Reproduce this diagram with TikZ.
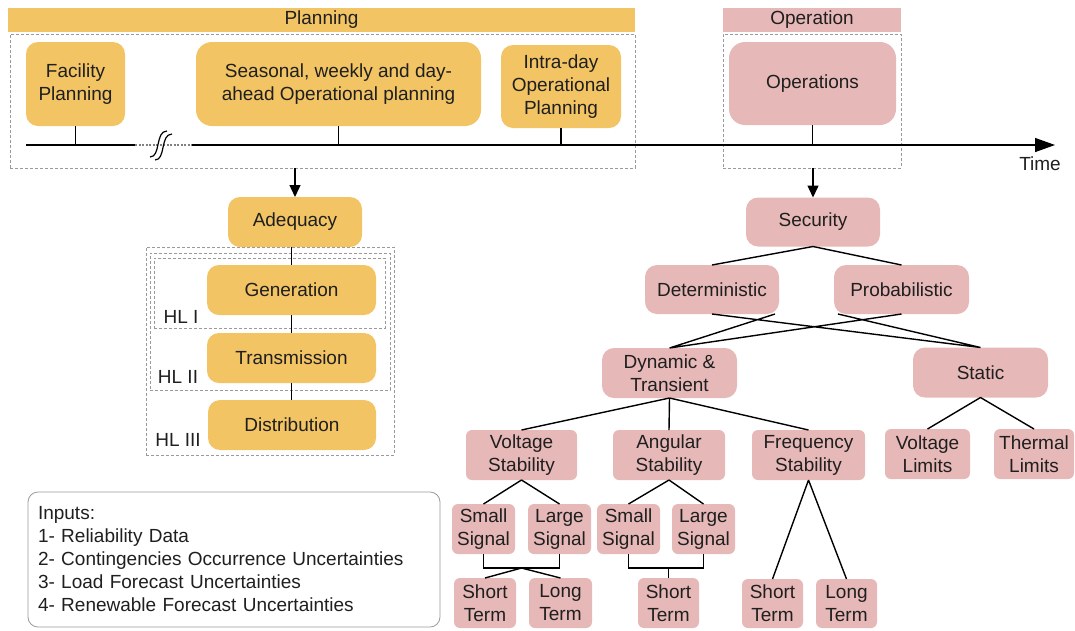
\documentclass[tikz,border=0pt]{standalone}
\usepackage{fontspec}
\setmainfont{Liberation Sans}
\usetikzlibrary{positioning, arrows.meta}
\definecolor{planfill}{HTML}{F2C464}
\definecolor{opfill}{HTML}{E6B8B7}
\definecolor{framegray}{HTML}{9A9A9A}
\definecolor{ink}{HTML}{1F1F1F}
\tikzset{
        >={Triangle[length=12pt,width=11pt]}, % filled arrow heads
        every node/.style={font=\fontsize{19}{23}\selectfont, text=ink, inner sep=2pt, outer sep=0pt},
        planshape/.style={fill=planfill, rounded corners=12pt, align=center},
        opshape/.style={fill=opfill, rounded corners=12pt, align=center},
        leaf/.style={fill=opfill, rounded corners=6pt, align=center},
        band/.style={minimum height=24pt, inner sep=0pt},
        frame/.style={draw=framegray, dash pattern=on 3pt off 2pt, line width=0.8pt, inner sep=0pt},
        link/.style={line width=1.4pt}
        }
\begin{document}
\begin{tikzpicture}[x=1pt, y=-1pt]
        \useasboundingbox (0,0) rectangle (1075,630);

        % bands and frames of the time line
        \node[band, fill=planfill, minimum width=627pt](planband) at (321.5,20){Planning};
        \node[band, fill=opfill, minimum width=178pt](opband) at (812,20){Operation};
        \node[frame, minimum width=625pt, minimum height=134pt](planframe) at (322.5,101){};
        \node[frame, minimum width=178pt, minimum height=134pt](opframe) at (812,101){};

        \node[planshape, minimum width=99pt, minimum height=84pt](fac) at (75.5,84){Facility\\Planning};
        \node[planshape, rounded corners=16pt, minimum width=285pt, minimum height=84pt](sea) at (338.5,84){Seasonal, weekly and day-\\ahead Operational planning};
        \node[planshape, minimum width=120pt, minimum height=83pt](intra) at (561,86.5){Intra-day\\Operational\\Planning};
        \node[opshape, rounded corners=16pt, minimum width=167pt, minimum height=83pt](ops) at (812.5,83.5){Operations};

        \coordinate (t0) at (26,145);
        \coordinate (b0) at (135,145);
        \coordinate (b1) at (192,145);
        \coordinate (t1) at (1055,145);
        \draw[link] (t0) -- (b0);
        \draw[link, gray, dash pattern=on 2pt off 1.5pt] (b0) -- (b1);
        \draw[link, -{Triangle[length=20pt,width=14pt]}] (b1) -- (t1);
        \draw[line width=1.2pt] (150,157) .. controls (161,157) and (155,131) .. (167,131)
                                (155,160) .. controls (166,160) and (160,134) .. (172,134);
        \node(time) at (1040,164){Time};
        \foreach \n in {fac, sea, intra, ops}
            \draw[link] (\n.south) -- (\n.south |- t0);

        % adequacy branch
        \node[planshape, minimum width=134pt, minimum height=50pt](ade) at (295,222){Adequacy};
        \draw[link, ->] (ade.north |- planframe.south) -- (ade.north);
        \node[frame, minimum width=248pt, minimum height=208pt](hl3) at (270,351){};
        \node[frame, minimum width=240pt, minimum height=137pt](hl2) at (270,321.5){};
        \node[frame, minimum width=231pt, minimum height=70pt](hl1) at (269.5,293){};
        \node[planshape, minimum width=169pt, minimum height=50pt](gen) at (291.5,290){Generation};
        \node[planshape, minimum width=169pt, minimum height=50pt](trans) at (291.5,358){Transmission};
        \node[planshape, minimum width=168pt, minimum height=50pt](dist) at (292,425){Distribution};
        \node(hlI) at (181,317){HL I};
        \node(hlII) at (178,377){HL II};
        \node(hlIII) at (178,440){HL III};
        \draw[link] (gen.north |- ade.south) -- (gen.north)
                    (gen.south) -- (gen.south |- trans.north)
                    (trans.south) -- (trans.south |- dist.north);

        % inputs
        \node[draw=framegray, line width=0.8pt, rounded corners=10pt, fill=white,
              minimum width=412pt, minimum height=135pt, text width=392pt, align=left](inputs) at (234,559.5)
              {Inputs:\\1- Reliability Data\\2- Contingencies Occurrence Uncertainties\\3- Load Forecast Uncertainties\\4- Renewable Forecast Uncertainties};

        % security branch
        \node[opshape, minimum width=134pt, minimum height=49pt](sec) at (813,222){Security};
        \draw[link, ->] (sec.north |- opframe.south) -- (sec.north);
        \node[opshape, minimum width=134pt, minimum height=49pt](det) at (712,289.5){Deterministic};
        \node[opshape, minimum width=135pt, minimum height=49pt](prob) at (901.5,289.5){Probabilistic};
        \node[opshape, minimum width=135pt, minimum height=50pt](dyn) at (669.5,373){Dynamic \&\\Transient};
        \node[opshape, minimum width=135pt, minimum height=50pt](stat) at (980.5,372.5){Static};
        \node[leaf, minimum width=111pt, minimum height=50pt](vs) at (521.5,455){Voltage\\Stability};
        \node[leaf, minimum width=112pt, minimum height=50pt](as) at (669,455){Angular\\Stability};
        \node[leaf, minimum width=113pt, minimum height=50pt](fs) at (808.5,455){Frequency\\Stability};
        \node[leaf, minimum width=85pt, minimum height=50pt](vl) at (927.5,454){Voltage\\Limits};
        \node[leaf, minimum width=80pt, minimum height=50pt](tl) at (1034,454){Thermal\\Limits};
        \node[leaf, minimum width=63pt, minimum height=50pt](vss) at (483.5,529){Small\\Signal};
        \node[leaf, minimum width=63pt, minimum height=50pt](vls) at (559.5,529){Large\\Signal};
        \node[leaf, minimum width=63pt, minimum height=50pt](ass) at (628.5,529){Small\\Signal};
        \node[leaf, minimum width=63pt, minimum height=50pt](als) at (703.5,529){Large\\Signal};
        \node[leaf, minimum width=62pt, minimum height=50pt](vst) at (485,603){Short\\Term};
        \node[leaf, minimum width=63pt, minimum height=50pt](vlt) at (560.5,603){Long\\Term};
        \node[leaf, minimum width=61pt, minimum height=50pt](ast) at (668.5,603){Short\\Term};
        \node[leaf, minimum width=61pt, minimum height=49pt](fst) at (772.5,603.5){Short\\Term};
        \node[leaf, minimum width=61pt, minimum height=49pt](flt) at (846.5,603.5){Long\\Term};

        \draw[link] (sec.south) -- (det.north) (sec.south) -- (prob.north);
        \draw[link] (det.south) -- (stat.north) ([xshift=-4pt]det.south east) -- (dyn.north)
                    (prob.south) -- (dyn.north) ([xshift=4pt]prob.south west) -- (stat.north);
        \foreach \c in {vs, as, fs}
            \draw[link] (dyn.south) -- (\c.north);
        \draw[link] (stat.south) -- (vl.north) (stat.south) -- (tl.north);
        \draw[link] (vs.south) -- (vss.north) (vs.south) -- (vls.north)
                    (as.south) -- (ass.north) (as.south) -- (als.north);
        \coordinate (vj) at (521.5,568);
        \coordinate (aj) at (668.5,568);
        \draw[link] (vss.south) |- (vj) -| (vls.south);
        \draw[link] (vst.north) -- (vj) -- (vlt.north);
        \draw[link] (ass.south) |- (aj) -| (als.south);
        \draw[link] (aj) -- (ast.north);
        \draw[link] (fs.south) -- (fst.north) (fs.south) -- (flt.north);
\end{tikzpicture}
\end{document}
